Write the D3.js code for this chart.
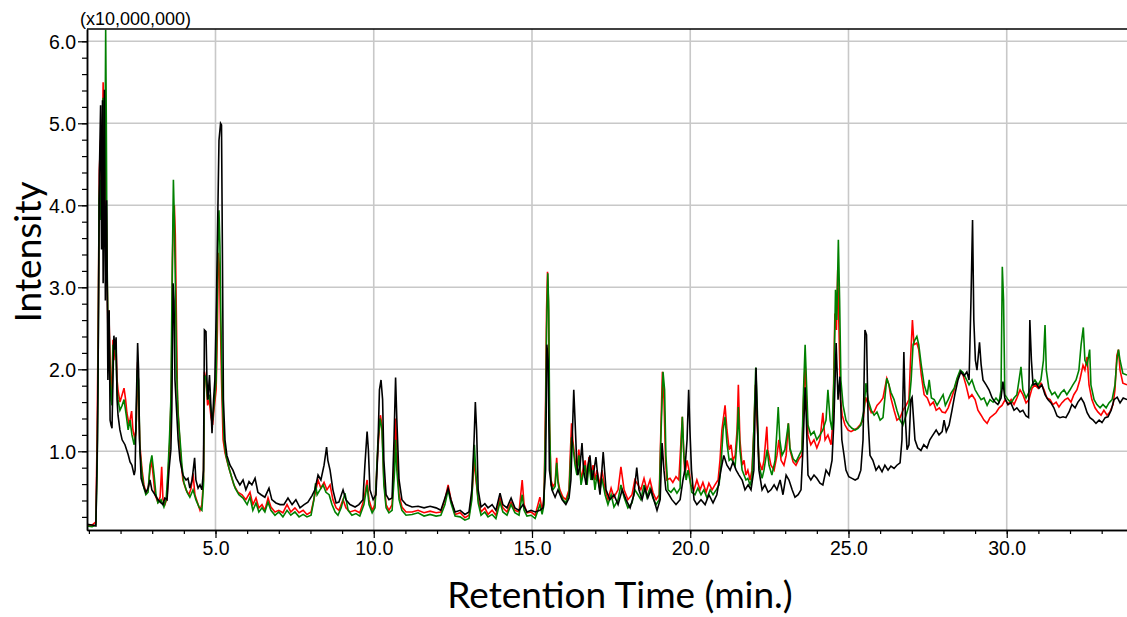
<!DOCTYPE html>
<html><head><meta charset="utf-8">
<script src="https://cdn.jsdelivr.net/npm/d3@7/dist/d3.min.js"></script>
<style>body{margin:0;background:#fff}svg{display:block}</style>
</head><body>
<svg id="chart" width="1127" height="617"></svg>
<script>
// Retention time (min) / intensity (x10,000,000) pairs
const blackSeries = [[0.94,0.11],[1.10,0.10],[1.22,0.09],[1.27,1.14],[1.30,2.48],[1.33,4.37],[1.37,5.22],[1.40,3.46],[1.43,5.28],[1.45,3.05],[1.48,4.19],[1.49,5.41],[1.52,2.84],[1.56,4.06],[1.60,1.87],[1.64,2.72],[1.67,1.38],[1.70,1.32],[1.73,1.28],[1.76,1.87],[1.79,2.41],[1.82,2.24],[1.86,2.39],[1.89,1.63],[1.92,1.44],[1.98,1.26],[2.05,1.14],[2.14,1.08],[2.24,0.96],[2.30,0.87],[2.36,0.83],[2.43,0.71],[2.46,0.77],[2.50,1.63],[2.54,2.32],[2.57,1.99],[2.60,1.14],[2.65,0.67],[2.71,0.59],[2.80,0.50],[2.87,0.55],[2.93,0.65],[2.99,0.53],[3.09,0.47],[3.18,0.41],[3.28,0.37],[3.34,0.35],[3.40,0.43],[3.47,0.41],[3.53,0.77],[3.59,1.02],[3.62,1.50],[3.66,3.05],[3.69,2.84],[3.72,1.87],[3.77,1.50],[3.82,1.14],[3.88,0.89],[3.97,0.71],[4.07,0.65],[4.13,0.67],[4.19,0.55],[4.26,0.65],[4.34,0.92],[4.38,0.65],[4.45,0.55],[4.51,0.59],[4.57,0.53],[4.62,0.77],[4.65,2.48],[4.70,2.46],[4.73,1.87],[4.76,1.63],[4.81,1.93],[4.86,1.50],[4.89,1.22],[4.94,1.63],[4.98,1.87],[5.03,2.84],[5.08,4.06],[5.11,4.79],[5.16,5.00],[5.19,4.98],[5.22,3.33],[5.25,1.63],[5.30,1.14],[5.36,0.95],[5.46,0.83],[5.55,0.77],[5.65,0.67],[5.77,0.59],[5.87,0.65],[5.96,0.53],[6.06,0.63],[6.15,0.59],[6.25,0.67],[6.34,0.50],[6.44,0.47],[6.56,0.44],[6.69,0.55],[6.78,0.41],[6.91,0.37],[7.04,0.35],[7.16,0.35],[7.29,0.43],[7.42,0.35],[7.54,0.41],[7.67,0.31],[7.80,0.35],[7.92,0.38],[8.05,0.46],[8.14,0.53],[8.24,0.71],[8.33,0.65],[8.43,0.83],[8.51,1.05],[8.55,0.89],[8.62,0.77],[8.71,0.53],[8.81,0.37],[8.90,0.38],[9.03,0.53],[9.12,0.41],[9.25,0.35],[9.41,0.32],[9.53,0.35],[9.66,0.41],[9.72,0.83],[9.79,1.24],[9.83,1.02],[9.88,0.53],[9.98,0.41],[10.07,0.47],[10.13,1.02],[10.18,1.75],[10.23,1.87],[10.28,1.63],[10.32,0.89],[10.39,0.47],[10.48,0.41],[10.58,0.43],[10.64,1.14],[10.69,1.90],[10.73,1.38],[10.80,0.65],[10.89,0.41],[11.02,0.35],[11.21,0.32],[11.40,0.33],[11.59,0.31],[11.78,0.33],[11.97,0.31],[12.12,0.28],[12.25,0.43],[12.35,0.55],[12.44,0.41],[12.57,0.26],[12.73,0.28],[12.88,0.23],[13.01,0.26],[13.10,0.53],[13.17,1.14],[13.21,1.60],[13.25,1.26],[13.30,0.53],[13.39,0.32],[13.51,0.36],[13.61,0.31],[13.74,0.35],[13.86,0.28],[13.99,0.49],[14.08,0.35],[14.21,0.31],[14.34,0.43],[14.46,0.31],[14.59,0.28],[14.72,0.35],[14.84,0.26],[14.97,0.28],[15.10,0.26],[15.25,0.28],[15.35,0.31],[15.43,0.77],[15.47,2.30],[15.51,2.11],[15.55,0.77],[15.63,0.53],[15.73,0.44],[15.82,0.53],[15.95,0.41],[16.07,0.35],[16.17,0.43],[16.23,0.65],[16.32,1.75],[16.36,1.38],[16.41,0.89],[16.45,0.71],[16.52,0.83],[16.58,1.10],[16.63,0.77],[16.71,0.59],[16.77,0.83],[16.83,0.95],[16.90,0.65],[16.96,0.77],[17.02,0.93],[17.09,0.65],[17.15,0.47],[17.25,0.99],[17.34,0.53],[17.46,0.41],[17.59,0.47],[17.72,0.35],[17.85,0.53],[17.97,0.41],[18.10,0.31],[18.22,0.47],[18.31,0.80],[18.38,0.53],[18.48,0.41],[18.57,0.55],[18.66,0.43],[18.76,0.53],[18.85,0.41],[18.95,0.28],[19.05,0.41],[19.11,1.10],[19.17,0.77],[19.23,0.53],[19.33,0.47],[19.42,0.41],[19.55,0.35],[19.68,0.41],[19.77,0.65],[19.83,0.77],[19.90,1.14],[19.95,1.75],[19.99,1.26],[20.04,0.77],[20.12,0.41],[20.21,0.35],[20.34,0.41],[20.47,0.35],[20.59,0.47],[20.72,0.37],[20.84,0.47],[20.97,0.77],[21.06,0.95],[21.16,0.83],[21.26,0.77],[21.35,0.87],[21.45,0.77],[21.54,0.71],[21.64,0.65],[21.73,0.53],[21.83,0.59],[21.92,0.53],[22.01,0.77],[22.08,2.02],[22.12,1.38],[22.17,0.77],[22.27,0.53],[22.36,0.59],[22.46,0.50],[22.55,0.53],[22.65,0.59],[22.74,0.53],[22.84,0.65],[22.93,0.47],[23.03,0.71],[23.12,0.65],[23.22,0.53],[23.31,0.44],[23.41,0.47],[23.50,0.53],[23.56,1.02],[23.63,1.78],[23.67,1.38],[23.72,0.71],[23.81,0.65],[23.91,0.71],[24.00,0.67],[24.10,0.61],[24.19,0.59],[24.29,0.77],[24.39,0.71],[24.48,0.89],[24.54,1.38],[24.61,2.32],[24.67,1.63],[24.73,1.91],[24.79,1.14],[24.86,0.95],[24.92,0.77],[25.01,0.69],[25.11,0.67],[25.21,0.65],[25.30,0.67],[25.39,0.77],[25.46,1.14],[25.52,2.48],[25.57,2.42],[25.62,1.38],[25.68,0.95],[25.77,0.89],[25.87,0.77],[25.96,0.82],[26.06,0.75],[26.15,0.83],[26.25,0.77],[26.34,0.82],[26.44,0.79],[26.53,0.83],[26.63,0.86],[26.69,1.14],[26.75,2.21],[26.80,1.38],[26.85,1.02],[26.91,1.08],[26.97,1.63],[27.01,1.66],[27.10,1.14],[27.19,1.04],[27.29,1.01],[27.38,1.08],[27.48,1.04],[27.57,1.14],[27.67,1.20],[27.77,1.26],[27.86,1.20],[27.96,1.24],[28.02,1.38],[28.09,1.24],[28.18,1.32],[28.27,1.50],[28.36,1.69],[28.46,1.87],[28.55,1.97],[28.65,1.92],[28.74,1.97],[28.81,1.87],[28.87,2.84],[28.92,3.82],[28.96,2.60],[29.01,2.11],[29.06,1.99],[29.14,2.33],[29.19,2.06],[29.25,1.87],[29.35,1.81],[29.44,1.75],[29.54,1.65],[29.63,1.60],[29.72,1.57],[29.82,1.65],[29.88,1.85],[29.94,1.65],[30.04,1.57],[30.13,1.59],[30.23,1.50],[30.32,1.53],[30.42,1.48],[30.51,1.50],[30.61,1.43],[30.69,1.41],[30.73,2.60],[30.78,2.11],[30.83,1.81],[30.92,1.83],[31.02,1.77],[31.11,1.81],[31.21,1.69],[31.30,1.63],[31.40,1.59],[31.49,1.53],[31.59,1.43],[31.68,1.41],[31.78,1.42],[31.87,1.41],[31.97,1.48],[32.06,1.57],[32.16,1.53],[32.25,1.60],[32.35,1.65],[32.44,1.59],[32.54,1.47],[32.63,1.41],[32.73,1.38],[32.82,1.34],[32.92,1.38],[33.01,1.35],[33.11,1.41],[33.20,1.42],[33.30,1.50],[33.39,1.63],[33.49,1.66],[33.58,1.59],[33.68,1.65],[33.80,1.63]];

const redSeries = [[0.94,0.10],[1.10,0.10],[1.22,0.14],[1.26,1.22],[1.30,2.84],[1.33,4.43],[1.37,4.80],[1.40,4.13],[1.43,4.92],[1.45,5.50],[1.48,4.67],[1.51,5.04],[1.54,4.19],[1.57,3.33],[1.60,2.48],[1.63,2.72],[1.67,2.11],[1.70,1.69],[1.73,1.81],[1.76,2.36],[1.79,2.11],[1.82,2.30],[1.86,2.24],[1.89,1.87],[1.92,1.75],[1.98,1.60],[2.05,1.69],[2.11,1.77],[2.16,1.63],[2.20,1.47],[2.27,1.32],[2.35,1.49],[2.39,1.26],[2.46,1.14],[2.50,1.38],[2.54,2.09],[2.57,1.63],[2.61,1.08],[2.68,0.77],[2.74,0.59],[2.80,0.50],[2.87,0.53],[2.93,0.77],[2.98,0.89],[3.03,0.71],[3.09,0.47],[3.18,0.38],[3.25,0.44],[3.30,0.81],[3.34,0.41],[3.40,0.35],[3.47,0.43],[3.51,0.77],[3.56,1.14],[3.61,1.87],[3.64,3.33],[3.67,3.88],[3.70,4.00],[3.73,3.64],[3.77,2.48],[3.80,1.63],[3.85,1.26],[3.91,0.89],[3.97,0.65],[4.07,0.53],[4.16,0.47],[4.23,0.55],[4.29,0.73],[4.35,0.47],[4.45,0.35],[4.51,0.28],[4.57,0.35],[4.62,0.65],[4.65,1.97],[4.70,1.87],[4.75,1.56],[4.80,1.63],[4.86,1.41],[4.91,1.32],[4.95,1.50],[5.02,1.75],[5.06,2.48],[5.09,3.42],[5.13,3.21],[5.16,2.48],[5.19,1.87],[5.24,1.14],[5.30,0.98],[5.40,0.83],[5.49,0.71],[5.58,0.59],[5.71,0.50],[5.84,0.47],[5.96,0.41],[6.09,0.50],[6.18,0.35],[6.28,0.43],[6.37,0.31],[6.47,0.35],[6.56,0.28],[6.66,0.43],[6.75,0.32],[6.88,0.26],[7.00,0.28],[7.13,0.25],[7.26,0.35],[7.38,0.26],[7.51,0.31],[7.64,0.25],[7.77,0.28],[7.89,0.23],[8.02,0.26],[8.14,0.47],[8.24,0.65],[8.33,0.55],[8.43,0.62],[8.52,0.53],[8.62,0.59],[8.71,0.41],[8.81,0.31],[8.90,0.28],[9.03,0.41],[9.12,0.31],[9.25,0.26],[9.41,0.28],[9.56,0.25],[9.69,0.41],[9.79,0.65],[9.85,0.41],[9.95,0.28],[10.04,0.35],[10.13,1.02],[10.21,1.44],[10.26,1.32],[10.32,0.65],[10.39,0.35],[10.48,0.28],[10.58,0.35],[10.66,0.95],[10.69,1.40],[10.73,1.02],[10.80,0.47],[10.89,0.32],[11.02,0.26],[11.21,0.26],[11.40,0.28],[11.59,0.25],[11.78,0.27],[11.97,0.25],[12.12,0.26],[12.25,0.41],[12.35,0.59],[12.44,0.41],[12.57,0.23],[12.73,0.25],[12.88,0.19],[13.01,0.22],[13.10,0.47],[13.18,0.89],[13.23,0.65],[13.30,0.41],[13.39,0.26],[13.51,0.31],[13.61,0.23],[13.74,0.28],[13.86,0.22],[13.99,0.43],[14.08,0.31],[14.21,0.26],[14.34,0.38],[14.46,0.28],[14.59,0.26],[14.69,0.65],[14.75,0.35],[14.84,0.25],[14.97,0.26],[15.10,0.22],[15.25,0.44],[15.32,0.28],[15.38,0.41],[15.43,1.63],[15.46,2.72],[15.49,3.19],[15.52,2.84],[15.55,1.38],[15.60,0.65],[15.66,0.57],[15.73,0.61],[15.78,0.92],[15.82,0.65],[15.88,0.53],[15.98,0.44],[16.07,0.41],[16.17,0.53],[16.21,0.96],[16.25,1.34],[16.29,1.14],[16.36,0.89],[16.42,0.77],[16.48,1.02],[16.55,0.65],[16.61,0.77],[16.68,0.89],[16.74,0.65],[16.80,0.93],[16.86,0.71],[16.93,0.83],[16.99,0.65],[17.05,0.77],[17.15,0.59],[17.21,0.77],[17.31,0.53],[17.40,0.41],[17.50,0.55],[17.59,0.44],[17.72,0.53],[17.81,0.81],[17.91,0.53],[18.03,0.41],[18.16,0.47],[18.25,0.65],[18.35,0.59],[18.44,0.53],[18.54,0.67],[18.63,0.53],[18.73,0.65],[18.82,0.50],[18.92,0.41],[19.02,0.47],[19.08,1.38],[19.12,1.97],[19.17,1.63],[19.22,0.89],[19.26,0.65],[19.36,0.67],[19.45,0.62],[19.55,0.69],[19.64,0.65],[19.71,1.14],[19.75,1.42],[19.79,1.02],[19.83,0.71],[19.90,0.89],[19.96,0.77],[20.02,0.59],[20.12,0.53],[20.21,0.65],[20.31,0.53],[20.40,0.62],[20.50,0.50],[20.59,0.61],[20.69,0.53],[20.78,0.59],[20.88,0.65],[20.94,0.89],[21.00,1.26],[21.10,1.56],[21.16,1.26],[21.23,1.02],[21.29,1.08],[21.35,0.89],[21.42,0.95],[21.48,1.26],[21.52,1.81],[21.57,1.14],[21.64,0.83],[21.70,0.89],[21.76,0.71],[21.82,0.77],[21.89,0.65],[21.95,0.77],[22.01,1.26],[22.06,1.81],[22.11,1.38],[22.17,0.89],[22.27,0.77],[22.33,0.89],[22.42,1.30],[22.45,1.02],[22.55,0.83],[22.65,0.77],[22.74,0.95],[22.80,1.14],[22.87,0.89],[22.96,0.83],[23.03,0.95],[23.10,1.34],[23.15,1.02],[23.25,0.87],[23.34,0.83],[23.44,0.91],[23.53,0.95],[23.58,1.63],[23.63,2.07],[23.67,1.63],[23.72,1.20],[23.81,1.08],[23.91,1.14],[24.00,1.04],[24.10,1.14],[24.19,1.47],[24.26,1.14],[24.35,1.20],[24.45,1.08],[24.51,1.38],[24.57,2.68],[24.62,2.48],[24.66,3.21],[24.70,2.48],[24.75,1.63],[24.80,1.44],[24.89,1.32],[24.98,1.26],[25.08,1.24],[25.17,1.26],[25.27,1.28],[25.36,1.32],[25.46,1.38],[25.54,1.66],[25.62,1.57],[25.72,1.47],[25.81,1.48],[25.90,1.56],[26.00,1.60],[26.09,1.65],[26.21,1.89],[26.28,1.81],[26.34,1.65],[26.44,1.50],[26.53,1.38],[26.63,1.41],[26.72,1.50],[26.82,1.56],[26.91,1.63],[26.96,2.11],[27.02,2.60],[27.07,2.30],[27.16,2.32],[27.22,2.24],[27.30,1.93],[27.39,1.69],[27.49,1.65],[27.58,1.56],[27.68,1.60],[27.77,1.50],[27.87,1.53],[27.96,1.48],[28.06,1.47],[28.15,1.53],[28.24,1.63],[28.34,1.75],[28.43,1.87],[28.53,1.97],[28.62,1.93],[28.71,1.81],[28.81,1.65],[28.90,1.69],[29.00,1.63],[29.09,1.50],[29.19,1.44],[29.28,1.38],[29.38,1.34],[29.47,1.41],[29.57,1.44],[29.66,1.47],[29.76,1.53],[29.85,1.56],[29.95,1.63],[30.04,1.57],[30.14,1.63],[30.23,1.57],[30.32,1.65],[30.42,1.75],[30.51,1.69],[30.61,1.59],[30.70,1.63],[30.80,1.77],[30.89,1.81],[30.99,1.77],[31.08,1.83],[31.18,1.75],[31.27,1.65],[31.37,1.63],[31.46,1.57],[31.56,1.60],[31.65,1.54],[31.74,1.59],[31.84,1.63],[31.93,1.65],[32.03,1.60],[32.12,1.69],[32.22,1.75],[32.31,1.87],[32.41,2.05],[32.47,1.99],[32.54,2.15],[32.60,1.81],[32.69,1.63],[32.79,1.53],[32.88,1.48],[32.98,1.44],[33.07,1.50],[33.17,1.44],[33.26,1.48],[33.36,1.57],[33.42,1.75],[33.48,2.17],[33.53,2.24],[33.58,1.99],[33.67,1.83],[33.80,1.81]];

const greenSeries = [[0.94,0.09],[1.10,0.08],[1.22,0.10],[1.26,0.77],[1.29,1.87],[1.32,4.06],[1.35,4.31],[1.38,3.82],[1.41,4.67],[1.45,5.31],[1.48,5.22],[1.50,4.06],[1.53,6.14],[1.55,5.04],[1.57,3.46],[1.60,2.60],[1.64,2.48],[1.67,1.87],[1.70,1.63],[1.73,1.56],[1.76,2.30],[1.79,2.24],[1.82,2.32],[1.86,2.11],[1.89,1.75],[1.92,1.63],[1.98,1.50],[2.05,1.56],[2.11,1.63],[2.18,1.44],[2.24,1.26],[2.30,1.38],[2.36,1.20],[2.43,1.08],[2.49,1.26],[2.53,1.99],[2.57,1.87],[2.61,1.02],[2.68,0.71],[2.74,0.55],[2.80,0.47],[2.87,0.50],[2.93,0.83],[2.99,0.95],[3.06,0.71],[3.12,0.47],[3.18,0.37],[3.28,0.41],[3.37,0.32],[3.44,0.41],[3.50,0.77],[3.55,1.20],[3.59,1.63],[3.63,3.09],[3.67,4.31],[3.70,3.82],[3.74,2.84],[3.77,1.99],[3.82,1.44],[3.88,1.14],[3.94,0.83],[4.00,0.62],[4.10,0.50],[4.19,0.44],[4.29,0.53],[4.38,0.41],[4.48,0.32],[4.57,0.28],[4.62,0.59],[4.65,1.93],[4.70,1.89],[4.75,1.63],[4.80,1.69],[4.86,1.50],[4.91,1.38],[4.95,1.56],[5.02,1.87],[5.05,2.72],[5.08,3.54],[5.11,3.94],[5.14,3.51],[5.17,2.60],[5.22,1.63],[5.27,1.14],[5.33,0.95],[5.43,0.79],[5.52,0.67],[5.62,0.55],[5.74,0.47],[5.87,0.43],[6.00,0.35],[6.09,0.44],[6.18,0.28],[6.28,0.37],[6.37,0.26],[6.47,0.31],[6.56,0.26],[6.66,0.38],[6.75,0.28],[6.88,0.22],[7.00,0.26],[7.13,0.20],[7.26,0.28],[7.38,0.22],[7.51,0.26],[7.64,0.20],[7.77,0.23],[7.89,0.20],[8.02,0.22],[8.11,0.41],[8.16,0.61],[8.21,0.47],[8.30,0.53],[8.40,0.59],[8.49,0.50],[8.59,0.47],[8.68,0.35],[8.78,0.26],[8.87,0.22],[8.97,0.31],[9.09,0.49],[9.19,0.28],[9.31,0.22],[9.44,0.24],[9.56,0.21],[9.69,0.35],[9.79,0.59],[9.85,0.35],[9.95,0.25],[10.04,0.31],[10.13,1.10],[10.20,1.40],[10.26,1.26],[10.32,0.59],[10.39,0.31],[10.48,0.25],[10.58,0.28],[10.66,0.77],[10.69,1.14],[10.73,0.77],[10.80,0.41],[10.89,0.28],[11.02,0.22],[11.21,0.23],[11.40,0.25],[11.59,0.21],[11.78,0.23],[11.97,0.21],[12.12,0.22],[12.25,0.35],[12.35,0.53],[12.44,0.37],[12.57,0.21],[12.73,0.20],[12.88,0.16],[13.01,0.18],[13.10,0.41],[13.18,1.08],[13.23,0.71],[13.30,0.37],[13.39,0.22],[13.51,0.26],[13.61,0.20],[13.74,0.23],[13.86,0.18],[13.99,0.38],[14.08,0.26],[14.21,0.22],[14.34,0.35],[14.46,0.25],[14.59,0.22],[14.69,0.47],[14.75,0.28],[14.84,0.21],[14.97,0.22],[15.10,0.18],[15.25,0.35],[15.32,0.23],[15.38,0.35],[15.43,1.38],[15.46,2.48],[15.50,3.17],[15.53,2.72],[15.56,1.26],[15.60,0.59],[15.66,0.53],[15.73,0.57],[15.78,0.86],[15.82,0.62],[15.88,0.49],[15.98,0.41],[16.07,0.37],[16.17,0.49],[16.21,0.83],[16.25,1.17],[16.29,1.08],[16.36,0.83],[16.42,0.71],[16.48,0.95],[16.55,0.59],[16.61,0.71],[16.68,0.83],[16.74,0.59],[16.80,0.87],[16.86,0.65],[16.93,0.77],[16.99,0.53],[17.05,0.71],[17.15,0.53],[17.21,0.67],[17.31,0.47],[17.40,0.35],[17.50,0.47],[17.59,0.32],[17.72,0.41],[17.81,0.59],[17.91,0.44],[18.03,0.31],[18.16,0.37],[18.25,0.53],[18.35,0.47],[18.44,0.41],[18.54,0.59],[18.63,0.44],[18.73,0.55],[18.82,0.43],[18.92,0.35],[19.02,0.41],[19.08,1.26],[19.14,1.97],[19.19,1.75],[19.23,0.95],[19.30,0.53],[19.39,0.50],[19.49,0.55],[19.58,0.49],[19.68,0.55],[19.72,1.14],[19.75,1.42],[19.80,0.95],[19.87,0.65],[19.93,0.77],[19.99,0.65],[20.05,0.50],[20.15,0.47],[20.24,0.55],[20.34,0.47],[20.43,0.53],[20.53,0.43],[20.63,0.53],[20.72,0.47],[20.82,0.53],[20.91,0.59],[20.97,0.83],[21.04,1.26],[21.10,1.42],[21.16,1.10],[21.23,0.89],[21.29,0.91],[21.35,0.87],[21.42,0.83],[21.48,1.14],[21.52,1.54],[21.57,1.02],[21.64,0.77],[21.70,0.71],[21.76,0.65],[21.82,0.67],[21.89,0.59],[21.95,0.67],[22.01,1.26],[22.07,2.02],[22.12,1.50],[22.17,0.83],[22.27,0.67],[22.33,0.77],[22.43,1.02],[22.49,0.83],[22.58,0.71],[22.68,0.89],[22.74,1.26],[22.78,1.54],[22.83,1.14],[22.90,0.95],[22.99,1.02],[23.10,1.34],[23.15,1.04],[23.25,0.91],[23.34,0.87],[23.44,0.95],[23.53,1.02],[23.58,1.75],[23.63,2.30],[23.67,1.87],[23.72,1.32],[23.81,1.20],[23.91,1.24],[24.00,1.14],[24.10,1.20],[24.19,1.26],[24.29,1.38],[24.35,1.75],[24.42,1.38],[24.48,1.26],[24.54,1.87],[24.59,2.97],[24.63,2.60],[24.68,3.58],[24.72,2.84],[24.76,1.87],[24.83,1.56],[24.92,1.38],[25.01,1.32],[25.11,1.28],[25.21,1.26],[25.30,1.28],[25.39,1.32],[25.49,1.50],[25.55,1.83],[25.62,1.63],[25.72,1.50],[25.81,1.44],[25.90,1.48],[26.00,1.38],[26.09,1.41],[26.21,1.89],[26.28,1.81],[26.34,1.72],[26.44,1.63],[26.53,1.50],[26.63,1.38],[26.72,1.32],[26.82,1.44],[26.91,1.56],[26.98,1.87],[27.04,2.30],[27.10,2.36],[27.16,2.40],[27.22,2.30],[27.30,2.05],[27.39,1.81],[27.49,1.69],[27.55,1.87],[27.62,1.65],[27.71,1.63],[27.80,1.56],[27.90,1.63],[27.99,1.69],[28.06,1.56],[28.15,1.63],[28.24,1.71],[28.34,1.77],[28.43,1.89],[28.53,1.99],[28.62,1.96],[28.71,1.89],[28.81,1.81],[28.90,1.87],[29.00,1.75],[29.09,1.69],[29.19,1.63],[29.28,1.65],[29.38,1.56],[29.47,1.63],[29.57,1.60],[29.66,1.65],[29.76,1.60],[29.82,1.75],[29.86,3.25],[29.90,2.84],[29.94,1.69],[30.04,1.63],[30.14,1.59],[30.23,1.65],[30.32,1.69],[30.39,1.87],[30.45,2.03],[30.51,1.75],[30.61,1.65],[30.70,1.72],[30.80,1.81],[30.89,1.87],[30.99,1.81],[31.08,1.87],[31.16,2.11],[31.21,2.54],[31.25,1.99],[31.33,1.77],[31.43,1.69],[31.52,1.72],[31.62,1.65],[31.71,1.71],[31.81,1.75],[31.90,1.69],[32.00,1.75],[32.09,1.81],[32.19,1.87],[32.28,1.99],[32.35,2.30],[32.42,2.51],[32.47,2.11],[32.54,2.05],[32.62,2.24],[32.66,1.81],[32.76,1.63],[32.85,1.57],[32.95,1.53],[33.04,1.57],[33.14,1.53],[33.23,1.59],[33.33,1.63],[33.42,1.81],[33.48,2.11],[33.53,2.24],[33.58,2.11],[33.67,1.95],[33.80,1.93]];

const xMajorTicks = [5, 10, 15, 20, 25, 30];
const xMinorTicks = d3.range(1, 34, 1);
const yMajorTicks = [1, 2, 3, 4, 5, 6];
const yMinorTicks = d3.range(1, 31).map(i => +(i * 0.2).toFixed(1));
const scaleLabel = "(x10,000,000)";
const xTitle = "Retention Time (min.)";
const yTitle = "Intensity";

const svg = d3.select("#chart");
const L = 87, R = 1127, T = 29, B = 530;
const x = d3.scaleLinear().domain([0.94, 33.8]).range([L, R]);
const y = d3.scaleLinear().domain([0.04, 6.15]).range([B, T]);

// grid
const grid = svg.append("g").attr("stroke", "#c8c8c8").attr("stroke-width", 1.6);
grid.selectAll(".vx").data(xMajorTicks).join("line")
  .attr("x1", d => x(d)).attr("x2", d => x(d)).attr("y1", T).attr("y2", B);
grid.selectAll(".hy").data(yMajorTicks).join("line")
  .attr("x1", L).attr("x2", R).attr("y1", d => y(d)).attr("y2", d => y(d));

// clip
svg.append("clipPath").attr("id", "clip").append("rect")
  .attr("x", L).attr("y", T).attr("width", R - L).attr("height", B - T);

const line = d3.line().x(d => x(d[0])).y(d => y(d[1]));
const plot = svg.append("g").attr("clip-path", "url(#clip)");
[[redSeries, "#ff0000"], [greenSeries, "#008000"], [blackSeries, "#000000"]].forEach(([s, c]) => {
  plot.append("path").datum(s).attr("d", line).attr("fill", "none")
    .attr("stroke", c).attr("stroke-width", 1.6).attr("stroke-linejoin", "miter");
});

// axes
const font = "'Liberation Sans', Arial, sans-serif";
const xMinor = svg.append("g").attr("transform", `translate(0,${B})`)
  .call(d3.axisBottom(x).tickValues(xMinorTicks).tickSize(4).tickSizeOuter(0).tickFormat(""));
const xMajor = svg.append("g").attr("transform", `translate(0,${B})`)
  .call(d3.axisBottom(x).tickValues(xMajorTicks).tickSize(8).tickSizeOuter(0).tickPadding(3).tickFormat(d3.format(".1f")));
const yMinor = svg.append("g").attr("transform", `translate(${L},0)`)
  .call(d3.axisLeft(y).tickValues(yMinorTicks).tickSize(5).tickSizeOuter(0).tickFormat(""));
const yMajor = svg.append("g").attr("transform", `translate(${L},0)`)
  .call(d3.axisLeft(y).tickValues(yMajorTicks).tickSize(9).tickSizeOuter(0).tickPadding(2).tickFormat(d3.format(".1f")));
[xMinor, xMajor, yMinor, yMajor].forEach(g => {
  g.selectAll("path.domain").attr("stroke", "#000").attr("stroke-width", 1.5);
  g.selectAll("line").attr("stroke", "#000").attr("stroke-width", 1.2);
  g.selectAll("text").attr("font-family", font).attr("font-size", 19.5).attr("fill", "#000");
});
yMajor.selectAll("text").attr("dy", "0.35em");

// top border
svg.append("line").attr("x1", L).attr("x2", R).attr("y1", T).attr("y2", T)
  .attr("stroke", "#000").attr("stroke-width", 1.5);

// labels
svg.append("text").attr("x", 80).attr("y", 25).attr("font-family", font).attr("font-size", 18)
  .text(scaleLabel);
svg.append("text").attr("x", 620).attr("y", 608).attr("text-anchor", "middle")
  .attr("font-family", "Lato, 'Open Sans', sans-serif").attr("font-size", 37).text(xTitle);
svg.append("text").attr("transform", "translate(41,252) rotate(-90)").attr("text-anchor", "middle")
  .attr("font-family", "Lato, 'Open Sans', sans-serif").attr("font-size", 37).text(yTitle);
</script>
</body></html>
